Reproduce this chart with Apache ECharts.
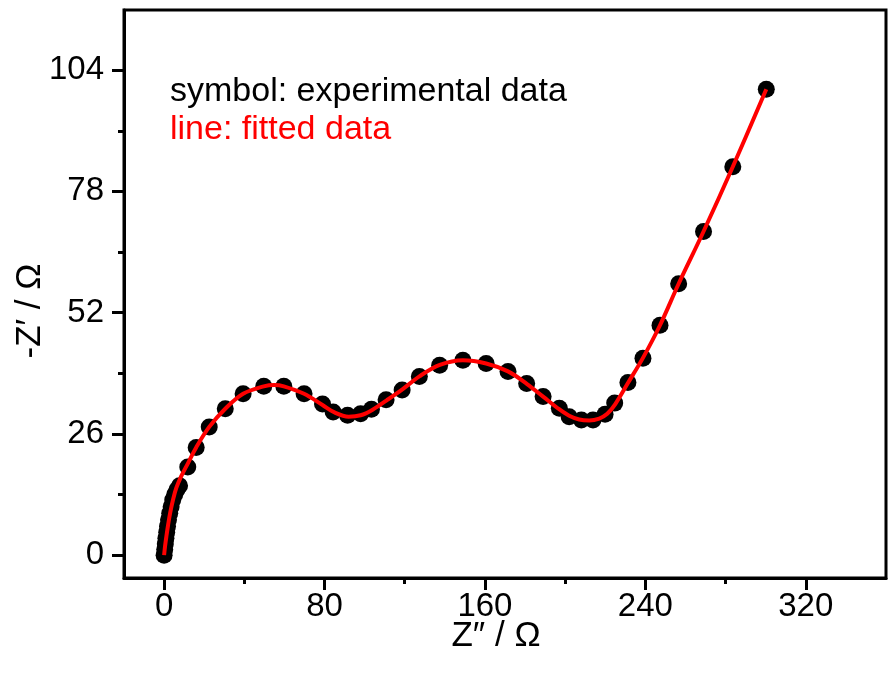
<!DOCTYPE html>
<html>
<head>
<meta charset="utf-8">
<script src="https://cdn.jsdelivr.net/npm/echarts@6/dist/echarts.min.js"></script>
<style>
html,body{margin:0;padding:0;background:#fff;}
#chart{width:889px;height:675px;}
</style>
</head>
<body>
<div id="chart"></div>
<script>
// Experimental data (symbols)
const expX = [0, 0.3, 0.6, 0.9, 1.3, 1.7, 2.2, 2.8, 3.5, 4.3, 5.3, 6.4, 7.7, 11.8, 16.0, 22.5, 30.5, 39.4, 49.7, 59.7, 69.8, 79.0, 84.3, 91.5, 98.0, 103.4, 110.7, 118.7, 127.3, 137.4, 149.0, 160.6, 171.5, 180.8, 189.0, 197.1, 202.0, 208.1, 213.9, 219.9, 224.7, 231.3, 238.8, 247.3, 256.6, 269.0, 283.6, 300.3];
const expY = [0, 1.2, 2.4, 3.6, 4.9, 6.2, 7.6, 9.0, 10.4, 11.8, 13.0, 14.0, 14.9, 18.9, 23.1, 27.5, 31.4, 34.6, 36.2, 36.2, 34.6, 32.4, 30.7, 30.0, 30.3, 31.3, 33.3, 35.4, 38.3, 40.7, 41.8, 41.1, 39.4, 36.8, 34.0, 31.5, 29.7, 29.0, 29.0, 30.2, 32.6, 37.0, 42.2, 49.3, 58.2, 69.4, 83.3, 99.9];
// Fitted data (line)
const fitX = [0, 0.5, 1.2, 2.0, 3.0, 4.3, 6.0, 8.5, 12.0, 16.0, 22.5, 30.5, 39.4, 49.7, 55.0, 59.7, 69.8, 79.0, 85.0, 92.0, 98.0, 104.0, 111.0, 119.0, 127.5, 137.5, 149.0, 160.6, 171.5, 181.0, 189.0, 197.0, 202.0, 207.0, 212.0, 217.0, 221.0, 225.0, 231.3, 238.8, 247.3, 256.6, 269.0, 283.6, 300.3];
const fitY = [0, 2.0, 4.2, 6.5, 9.0, 11.6, 14.3, 16.9, 19.8, 23.1, 27.5, 31.4, 34.6, 36.2, 36.5, 36.2, 34.6, 32.2, 30.6, 29.7, 30.0, 31.2, 33.2, 35.6, 38.4, 40.8, 41.8, 41.1, 39.4, 36.7, 34.0, 31.3, 29.9, 29.1, 28.9, 29.3, 30.3, 32.4, 36.9, 42.3, 49.3, 58.2, 69.4, 83.3, 99.9];
// Axis ticks
const xMajor = [0, 80, 160, 240, 320];
const xMinor = [40, 120, 200, 280];
const yMajor = [0, 26, 52, 78, 104];
const yMinor = [13, 39, 65, 91];

const expData = expX.map((x, i) => [x, expY[i]]);
const fitData = fitX.map((x, i) => [x, fitY[i]]);

const FONT = 'Liberation Sans, Arial, Helvetica, sans-serif';
const chart = echarts.init(document.getElementById('chart'), null, {renderer: 'canvas'});

const xBase = {type: 'value', min: -20, max: 360, gridIndex: 0, position: 'bottom', splitLine: {show: false}};
const yBase = {type: 'value', min: -4.9, max: 116.9, gridIndex: 0, position: 'left', splitLine: {show: false}};

chart.setOption({
  animation: false,
  backgroundColor: '#fff',
  grid: {left: 124, right: 3, top: 10, bottom: 97, containLabel: false, outerBoundsMode: 'none',
         show: true, borderColor: '#000', borderWidth: 3, backgroundColor: 'transparent'},
  xAxis: [
    Object.assign({}, xBase, {
      name: 'Z\u2033 / \u03A9', nameLocation: 'middle', nameGap: 41, nameMoveOverlap: false,
      nameTextStyle: {fontSize: 35, color: '#000', fontFamily: FONT, padding: [0, 18, 0, 0]},
      axisLine: {show: true, onZero: false, lineStyle: {color: '#000', width: 3}},
      axisTick: {show: true, customValues: xMajor, length: 12, inside: false, lineStyle: {color: '#000', width: 3}},
      axisLabel: {show: true, customValues: xMajor, fontSize: 33, color: '#000', fontFamily: FONT, margin: 12},
      minorTick: {show: false}
    }),
    Object.assign({}, xBase, {
      axisLine: {show: false, onZero: false},
      axisTick: {show: true, customValues: xMinor, length: 6, lineStyle: {color: '#000', width: 3}},
      axisLabel: {show: false}
    })
  ],
  yAxis: [
    Object.assign({}, yBase, {
      name: '-Z\u2032 / \u03A9', nameLocation: 'middle', nameGap: 76, nameRotate: 90, nameMoveOverlap: false,
      nameTextStyle: {fontSize: 35, color: '#000', fontFamily: FONT, padding: [0, 34, 0, 0]},
      axisLine: {show: true, onZero: false, lineStyle: {color: '#000', width: 3}},
      axisTick: {show: true, customValues: yMajor, length: 12, lineStyle: {color: '#000', width: 3}},
      axisLabel: {show: true, customValues: yMajor, fontSize: 33, color: '#000', fontFamily: FONT, margin: 20}
    }),
    Object.assign({}, yBase, {
      axisLine: {show: false, onZero: false},
      axisTick: {show: true, customValues: yMinor, length: 6, lineStyle: {color: '#000', width: 3}},
      axisLabel: {show: false}
    })
  ],
  graphic: [
    {type: 'text', left: 170, top: 75, style: {text: 'symbol: experimental data', fontSize: 34, fill: '#000', fontFamily: FONT}},
    {type: 'text', left: 170, top: 113, style: {text: 'line: fitted data', fontSize: 34, fill: '#ff0000', fontFamily: FONT}}
  ],
  series: [
    {type: 'scatter', xAxisIndex: 0, yAxisIndex: 0, data: expData, symbol: 'circle', symbolSize: 17,
     itemStyle: {color: '#000', opacity: 1}, z: 2},
    {type: 'line', xAxisIndex: 0, yAxisIndex: 0, data: fitData, showSymbol: false, smooth: 0.35,
     lineStyle: {color: '#ff0000', width: 4}, z: 3}
  ]
});
</script>
</body>
</html>
